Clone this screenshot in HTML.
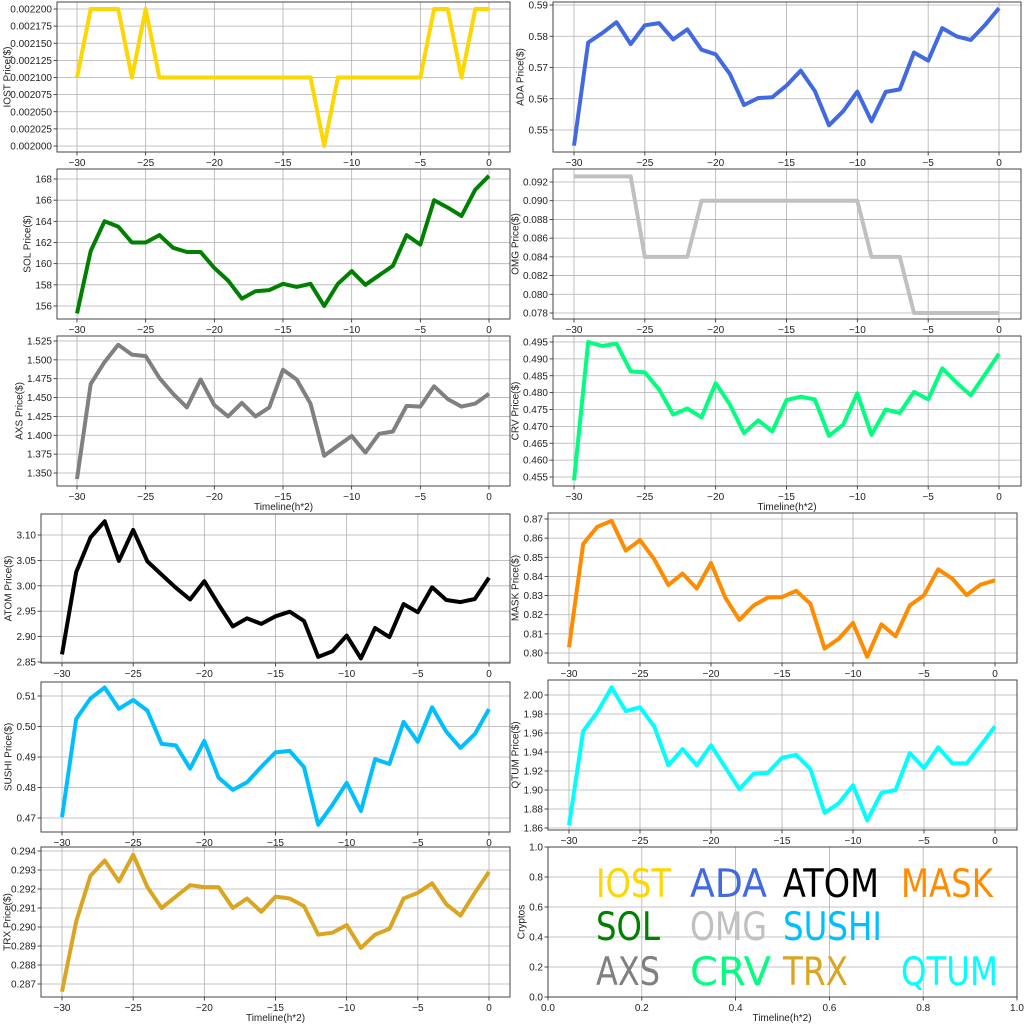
<!DOCTYPE html>
<html><head><meta charset="utf-8"><style>
html,body{margin:0;padding:0;background:#fff;width:1024px;height:1024px;overflow:hidden}
svg text{font-family:"Liberation Sans",sans-serif;fill:#222}
</style></head><body>
<svg id="s" width="1024" height="1024" xmlns="http://www.w3.org/2000/svg"></svg>
<script>
var S=document.getElementById('s'),out='';
function R(a,b,n){var r=[];for(var i=0;i<=n;i++)r.push(a+(b-a)*i/n);return r;}
var P=[
{n:'IOST',c:'#FFD700',bx:[57,510,2,152],xa:77,xb:489,t:R(0.002,0.0022,8),r:[0.002,146,0.0022,9],lx:8,
v:[.0021,.0022,.0022,.0022,.0021,.0022,.0021,.0021,.0021,.0021,.0021,.0021,.0021,.0021,.0021,.0021,.0021,.0021,.002,.0021,.0021,.0021,.0021,.0021,.0021,.0021,.0022,.0022,.0021,.0022,.0022],dec:6},
{n:'SOL',c:'#008000',bx:[57,510,169,319],xa:77,xb:489,t:R(156,168,6),r:[156,306,168,179],lx:28,dec:0,
v:[155.3,161.2,164,163.5,162,162,162.7,161.5,161.1,161.1,159.6,158.4,156.7,157.4,157.5,158.1,157.8,158.1,156,158.1,159.3,158,158.9,159.8,162.7,161.8,166,165.3,164.5,167,168.3]},
{n:'AXS',c:'#808080',bx:[57,510,336,486],xa:77,xb:489,t:R(1.35,1.525,7),r:[1.35,473,1.525,341],lx:20,dec:3,xl:510,
v:[1.342,1.468,1.497,1.520,1.507,1.505,1.476,1.455,1.437,1.474,1.440,1.425,1.443,1.425,1.437,1.487,1.474,1.442,1.373,1.386,1.399,1.377,1.402,1.405,1.439,1.438,1.465,1.448,1.438,1.442,1.455]},
{n:'ADA ',c:'#4169E1',bx:[553,1021,2,152],xa:574,xb:999,t:R(.55,.59,4),r:[.55,130,.59,5],lx:521,dec:2,
v:[.545,.578,.581,.5845,.5775,.5835,.5842,.579,.5822,.5757,.5742,.568,.558,.5602,.5605,.5642,.569,.5625,.5515,.556,.5623,.5528,.5622,.563,.5748,.5722,.5826,.58,.5788,.5835,.589]},
{n:'OMG ',c:'#C0C0C0',bx:[553,1021,169,319],xa:574,xb:999,t:R(.078,.092,7),r:[.078,313,.092,182],lx:516,dec:3,
v:[.0926,.0926,.0926,.0926,.0926,.084,.084,.084,.084,.09,.09,.09,.09,.09,.09,.09,.09,.09,.09,.09,.09,.084,.084,.084,.078,.078,.078,.078,.078,.078,.078]},
{n:'CRV ',c:'#00FF7F',bx:[553,1021,336,486],xa:574,xb:999,t:R(.455,.495,8),r:[.455,477,.495,342],lx:516,dec:3,xl:510,
v:[.454,.495,.4938,.4945,.4863,.486,.481,.4735,.4753,.4727,.4828,.4765,.468,.4718,.4685,.4778,.4788,.478,.4672,.4705,.4798,.4675,.475,.474,.4802,.478,.4872,.483,.4792,.4853,.4915]},
{n:'ATOM ',c:'#000000',bx:[41,510,514,663],xa:62,xb:489,t:R(2.85,3.1,5),r:[2.85,662,3.1,535],lx:9,dec:2,
v:[2.865,3.027,3.095,3.127,3.049,3.11,3.048,3.022,2.996,2.973,3.009,2.963,2.92,2.936,2.925,2.94,2.949,2.931,2.86,2.871,2.902,2.857,2.917,2.899,2.964,2.948,2.997,2.972,2.968,2.974,3.016]},
{n:'SUSHI ',c:'#00BFFF',bx:[41,510,682,832],xa:62,xb:489,t:R(.47,.51,4),r:[.47,818,.51,696],lx:9,dec:2,
v:[.4703,.5025,.5092,.5128,.5058,.5087,.5052,.4943,.4938,.4862,.4953,.4832,.4792,.4817,.4868,.4915,.492,.4867,.4678,.4743,.4815,.4723,.4893,.4877,.5015,.495,.5063,.4983,.493,.4975,.5057]},
{n:'TRX',c:'#DAA520',bx:[41,510,847,997],xa:62,xb:489,t:R(.287,.294,7),r:[.287,984,.294,851],lx:8,dec:3,xl:1021,
v:[.2866,.2903,.2927,.2935,.2924,.2938,.2921,.291,.2916,.2922,.2921,.2921,.291,.2915,.2908,.2916,.2915,.2911,.2896,.2897,.2901,.2889,.2896,.2899,.2915,.2918,.2923,.2912,.2906,.2918,.2929]},
{n:'MASK ',c:'#FF8C00',bx:[548,1017,513,663],xa:569,xb:995,t:R(.8,.87,7),r:[.8,653,.87,519],lx:516,dec:2,
v:[.803,.857,.866,.869,.8535,.859,.849,.8355,.8415,.8337,.847,.829,.8173,.8248,.829,.8292,.8325,.8258,.8023,.8075,.8157,.798,.815,.8087,.8248,.8302,.8437,.8388,.8303,.8358,.838]},
{n:'QTUM',c:'#00FFFF',bx:[548,1017,680,830],xa:569,xb:995,t:R(1.86,2.0,7),r:[1.86,828,2.0,695],lx:516,dec:2,
v:[1.863,1.962,1.982,2.008,1.983,1.987,1.967,1.926,1.943,1.926,1.947,1.924,1.901,1.917,1.918,1.934,1.937,1.922,1.876,1.886,1.905,1.868,1.897,1.9,1.939,1.923,1.945,1.928,1.928,1.947,1.967]}
];
function ln(x1,y1,x2,y2,c,w){out+='<line x1="'+x1+'" y1="'+y1+'" x2="'+x2+'" y2="'+y2+'" stroke="'+c+'" stroke-width="'+w+'"/>';}
function tx(x,y,s,a,fs,extra){out+='<text x="'+x+'" y="'+y+'" font-size="'+fs+'" text-anchor="'+a+'" '+(extra||'')+'>'+s+'</text>';}
function axes(bx,xt,xf,xlab,yt,yf){
 var L=bx[0],Rr=bx[1],T=bx[2],B=bx[3];
 xt.forEach(function(t){var x=xf(t);ln(x,T,x,B,'#b0b0b0',0.8);ln(x,B,x,B+3.5,'#222',0.8);tx(x,B+14,xlab(t),'middle',10);});
 yt.forEach(function(t){var y=yf(t);ln(L,y,Rr,y,'#b0b0b0',0.8);ln(L-3.5,y,L,y,'#222',0.8);tx(L-5,y+3.5,yf.lab(t),'end',10);});
 out+='<rect x="'+L+'" y="'+T+'" width="'+(Rr-L)+'" height="'+(B-T)+'" fill="none" stroke="#333" stroke-width="0.9"/>';
}
P.forEach(function(p){
 var xf=function(t){return p.xa+(t+30)*(p.xb-p.xa)/30;};
 var yf=function(v){return p.r[1]+(v-p.r[0])*(p.r[3]-p.r[1])/(p.r[2]-p.r[0]);};
 yf.lab=function(t){return t.toFixed(p.dec);};
 axes(p.bx,[-30,-25,-20,-15,-10,-5,0],xf,function(t){return t<0?'\u2212'+(-t):''+t;},p.t,yf);
 var pts=p.v.map(function(v,i){return xf(i-30).toFixed(1)+','+yf(v).toFixed(1);}).join(' ');
 out+='<polyline points="'+pts+'" fill="none" stroke="'+p.c+'" stroke-width="4" stroke-linejoin="round"/>';
 var cy=(p.bx[2]+p.bx[3])/2;
 tx(p.lx,cy,p.n+' Price($)','middle',10,'transform="rotate(-90 '+p.lx+' '+cy+')" dominant-baseline="middle"');
 if(p.xl)tx((p.bx[0]+p.bx[1])/2,p.xl,'Timeline(h*2)','middle',10);
});
var bx=[548,1017,847,997];
var xf=function(t){return 548+t*469;},yf=function(t){return 997-t*150;};
yf.lab=function(t){return t.toFixed(1);};
axes(bx,[0,.2,.4,.6,.8,1],xf,function(t){return t.toFixed(1);},[0,.2,.4,.6,.8,1],yf);
tx(522,922,'Cryptos','middle',10,'transform="rotate(-90 522 922)" dominant-baseline="middle"');
tx(782,1021,'Timeline(h*2)','middle',10);
var L=[['IOST','#FFD700',596,897,75],['ADA','#4169E1',690,897,77],['ATOM','#000000',783,897,96],['MASK','#FF8C00',901,897,92],
['SOL','#008000',596,940,64],['OMG','#C0C0C0',690,940,77],['SUSHI','#00BFFF',783,940,99],
['AXS','#808080',596,985,64],['CRV','#00FF7F',690,985,81],['TRX','#DAA520',783,985,65],['QTUM','#00FFFF',901,985,97]];
L.forEach(function(l){out+='<text x="'+l[2]+'" y="'+l[3]+'" font-size="39" textLength="'+l[4]+'" lengthAdjust="spacingAndGlyphs" style="font-family:\'DejaVu Sans\',sans-serif;fill:'+l[1]+'">'+l[0]+'</text>';});
S.innerHTML=out;
</script>
</body></html>
